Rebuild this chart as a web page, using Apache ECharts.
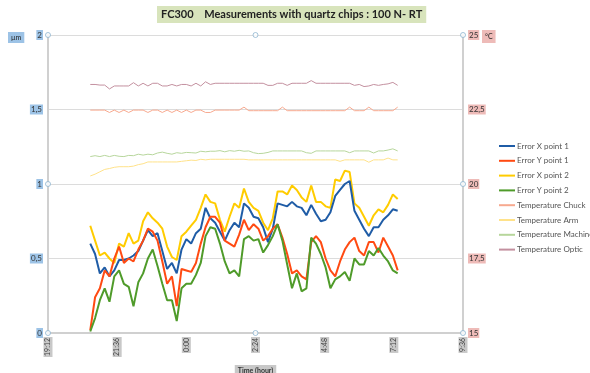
<!DOCTYPE html>
<html>
<head>
<meta charset="utf-8">
<script src="https://cdn.jsdelivr.net/npm/echarts@6/dist/echarts.min.js"></script>
<style>
  html, body { margin: 0; padding: 0; background: #fff; }
  #chart { width: 590px; height: 373px; }
</style>
</head>
<body>
<div id="chart"></div>
<script>
// Sample times (every 10 min, night run)
const times = ['20:40','20:50','21:00','21:10','21:20','21:30','21:40','21:50','22:00','22:10',
  '22:20','22:30','22:40','22:50','23:00','23:10','23:20','23:30','23:40','23:50',
  '00:00','00:10','00:20','00:30','00:40','00:50','01:00','01:10','01:20','01:30',
  '01:40','01:50','02:00','02:10','02:20','02:30','02:40','02:50','03:00','03:10',
  '03:20','03:30','03:40','03:50','04:00','04:10','04:20','04:30','04:40','04:50',
  '05:00','05:10','05:20','05:30','05:40','05:50','06:00','06:10','06:20','06:30',
  '06:40','06:50','07:00','07:10','07:20'];

// Errors (µm, left axis)
const errX1 = [0.60,0.53,0.40,0.44,0.38,0.42,0.49,0.49,0.50,0.52,0.55,0.62,0.69,0.65,0.67,0.55,0.43,0.47,0.40,0.56,
  0.63,0.60,0.67,0.70,0.84,0.77,0.74,0.68,0.62,0.69,0.74,0.71,0.87,0.84,0.78,0.77,0.71,0.61,0.70,0.87,
  0.86,0.85,0.88,0.85,0.84,0.79,0.86,0.80,0.75,0.76,0.81,0.92,0.96,1.00,1.02,0.82,0.76,0.70,0.65,0.71,
  0.71,0.76,0.79,0.83,0.82];
const errY1 = [0.02,0.24,0.30,0.42,0.38,0.50,0.58,0.47,0.50,0.48,0.56,0.62,0.70,0.68,0.62,0.48,0.33,0.38,0.18,0.43,
  0.42,0.41,0.47,0.60,0.71,0.78,0.78,0.74,0.62,0.60,0.58,0.66,0.76,0.69,0.73,0.70,0.62,0.65,0.70,0.73,
  0.64,0.53,0.40,0.42,0.38,0.36,0.61,0.65,0.61,0.50,0.42,0.38,0.48,0.56,0.61,0.64,0.55,0.52,0.61,0.61,
  0.54,0.64,0.58,0.52,0.42];
const errX2 = [0.72,0.62,0.52,0.54,0.50,0.47,0.60,0.58,0.67,0.60,0.62,0.75,0.81,0.77,0.74,0.70,0.58,0.51,0.49,0.65,
  0.68,0.72,0.76,0.84,0.93,0.88,0.87,0.76,0.68,0.78,0.87,0.84,0.97,0.88,0.84,0.82,0.74,0.69,0.77,0.95,
  0.95,0.93,0.99,0.96,0.91,0.88,0.99,0.88,0.88,0.85,0.84,1.03,1.02,1.09,1.08,0.87,0.84,0.78,0.72,0.79,
  0.83,0.81,0.86,0.93,0.90];
const errY2 = [0.01,0.10,0.22,0.30,0.21,0.38,0.42,0.33,0.31,0.18,0.34,0.40,0.50,0.56,0.45,0.33,0.22,0.22,0.08,0.30,
  0.33,0.33,0.39,0.47,0.65,0.71,0.70,0.60,0.48,0.40,0.42,0.38,0.63,0.65,0.62,0.63,0.54,0.59,0.65,0.73,
  0.62,0.46,0.30,0.40,0.28,0.30,0.64,0.60,0.53,0.44,0.30,0.36,0.38,0.41,0.35,0.50,0.46,0.46,0.55,0.52,
  0.57,0.52,0.48,0.42,0.40];

// Temperatures (°C, right axis)
const tChuck = [22.48,22.48,22.48,22.48,22.40,22.48,22.40,22.48,22.40,22.48,22.48,22.48,22.40,22.48,22.48,22.40,22.48,22.40,22.48,22.40,
  22.48,22.40,22.48,22.48,22.40,22.40,22.48,22.48,22.48,22.48,22.48,22.48,22.58,22.46,22.46,22.46,22.46,22.46,22.46,22.46,
  22.58,22.46,22.46,22.46,22.46,22.46,22.46,22.46,22.46,22.46,22.46,22.46,22.46,22.46,22.58,22.46,22.46,22.46,22.58,22.46,
  22.46,22.46,22.46,22.46,22.58];
const tArm = [20.27,20.33,20.41,20.49,20.52,20.56,20.58,20.58,20.58,20.60,20.65,20.68,20.74,20.74,20.74,20.74,20.74,20.74,20.74,20.76,
  20.78,20.80,20.79,20.83,20.81,20.83,20.83,20.83,20.83,20.83,20.83,20.83,20.83,20.81,20.81,20.81,20.81,20.81,20.81,20.81,
  20.81,20.81,20.81,20.81,20.81,20.81,20.81,20.81,20.81,20.81,20.81,20.81,20.76,20.81,20.81,20.81,20.81,20.81,20.73,20.81,
  20.81,20.81,20.87,20.81,20.81];
const tMachine = [20.92,20.95,20.92,20.96,20.92,20.96,20.93,20.92,20.96,20.95,21.00,20.97,21.00,20.98,21.04,21.07,21.03,21.00,21.05,21.03,
  21.06,21.05,21.04,21.10,21.08,21.10,21.10,21.12,21.08,21.12,21.10,21.13,21.10,21.11,21.05,21.02,21.03,21.06,21.11,21.11,
  21.11,21.11,21.11,21.11,21.11,21.05,21.03,21.11,21.11,21.11,21.11,21.11,21.11,21.11,21.05,21.11,21.11,21.11,21.11,21.04,
  21.11,21.11,21.14,21.18,21.11];
const tOptic = [23.34,23.34,23.32,23.32,23.19,23.29,23.29,23.29,23.29,23.40,23.29,23.38,23.29,23.38,23.38,23.29,23.29,23.34,23.29,23.34,
  23.34,23.29,23.38,23.29,23.43,23.34,23.38,23.38,23.38,23.38,23.38,23.38,23.38,23.38,23.38,23.38,23.38,23.31,23.31,23.38,
  23.38,23.31,23.38,23.38,23.38,23.38,23.47,23.38,23.38,23.38,23.38,23.38,23.38,23.38,23.38,23.31,23.34,23.27,23.29,23.34,
  23.31,23.34,23.36,23.41,23.31];

// Plot-area corner/edge handles (x in hours, y in µm)
const handleX = [19.2, 26.4, 33.6, 33.6, 33.6, 26.4, 19.2, 19.2];
const handleY = [2, 2, 2, 1, 0, 0, 0, 1];

function toHours(t) {
    const [h, m] = t.split(':').map(Number);
    return (h < 12 ? h + 24 : h) + m / 60;
}
function pair(values) {
    return values.map((v, i) => [toHours(times[i]), v]);
}
function hourLabel(v) {
    const mins = Math.round(v * 60) % (24 * 60);
    const h = Math.floor(mins / 60), m = mins % 60;
    return h + ':' + (m < 10 ? '0' : '') + m;
}
const comma = v => String(v).replace('.', ',');

const chart = echarts.init(document.getElementById('chart'));
const FONT = 'Lato, "Open Sans", sans-serif';

function errSeries(name, data, color) {
    return { name, type: 'line', data: pair(data), yAxisIndex: 0, symbol: 'none',
        lineStyle: { width: 2, color }, itemStyle: { color }, z: 3 };
}
function tempSeries(name, data, color) {
    return { name, type: 'line', data: pair(data), yAxisIndex: 1, symbol: 'none',
        lineStyle: { width: 1, color }, itemStyle: { color }, z: 2 };
}

const option = {
    animation: false,
    textStyle: { fontFamily: FONT },
    title: {
        text: 'FC300    Measurements with quartz chips : 100 N- RT',
        left: 157, top: 6,
        padding: [3, 4, 3, 4],
        backgroundColor: '#d8e4bc',
        textStyle: { fontSize: 11, fontWeight: 'bold', color: '#222', fontFamily: FONT }
    },
    grid: { left: 48, right: 127, top: 35, bottom: 40, outerBoundsMode: 'none' },
    legend: {
        orient: 'vertical', left: 494, top: 137,
        itemWidth: 16, itemHeight: 2, itemGap: 6.8,
        icon: 'rect',
        textStyle: { fontSize: 8, color: '#555', fontFamily: FONT, padding: [0, 0, 0, -3] },
        data: ['Error X point 1', 'Error Y point 1', 'Error X point 2', 'Error Y point 2',
               'Temperature Chuck', 'Temperature Arm', 'Temperature Machine', 'Temperature Optic']
    },
    xAxis: {
        type: 'value', min: 19.2, max: 33.6, interval: 2.4,
        name: 'Time (hour)', nameLocation: 'middle', nameGap: 27,
        nameTextStyle: { fontSize: 7, fontWeight: 'bold', color: '#333', backgroundColor: '#c8c8c8', padding: [2, 3, 2, 3] },
        axisLine: { lineStyle: { color: '#d0d0d0', width: 2 } },
        axisTick: { show: false },
        splitLine: { show: false },
        axisLabel: { rotate: 90, fontSize: 7, color: '#444', margin: 4, backgroundColor: '#c8c8c8',
            padding: [1, 1, 1, 1], formatter: hourLabel }
    },
    yAxis: [{
        type: 'value', min: 0, max: 2, interval: 0.5,
        axisLine: { show: true, lineStyle: { color: '#d0d0d0', width: 2 } },
        axisTick: { show: false },
        splitLine: { lineStyle: { color: '#dcdcdc', width: 1 } },
        axisLabel: { fontSize: 8, color: '#333', margin: 5, backgroundColor: '#9dc3e6',
            padding: [1, 1, 1, 1], formatter: comma }
    }, {
        type: 'value', min: 15, max: 25, interval: 2.5,
        axisLine: { show: true, lineStyle: { color: '#d0d0d0', width: 2 } },
        axisTick: { show: false },
        splitLine: { show: false },
        axisLabel: { fontSize: 8, color: '#333', margin: 5, backgroundColor: '#eebbb8',
            padding: [1, 1, 1, 1], formatter: comma }
    }],
    graphic: [
        { type: 'text', left: 8, top: 32, style: { text: 'µm', fontSize: 7, fill: '#222', fontFamily: FONT,
            backgroundColor: '#9dc3e6', padding: [2, 3, 2, 3] } },
        { type: 'text', left: 482, top: 30, style: { text: '°C', fontSize: 7, fill: '#222', fontFamily: FONT,
            backgroundColor: '#eebbb8', padding: [3, 3, 3, 3] } }
    ],
    series: [
        tempSeries('Temperature Chuck', tChuck, '#f7a98f'),
        tempSeries('Temperature Arm', tArm, '#ffe28a'),
        tempSeries('Temperature Machine', tMachine, '#b7d69c'),
        tempSeries('Temperature Optic', tOptic, '#c3909f'),
        errSeries('Error X point 2', errX2, '#ffcc00'),
        errSeries('Error X point 1', errX1, '#1f5ca6'),
        errSeries('Error Y point 1', errY1, '#ff4a12'),
        errSeries('Error Y point 2', errY2, '#4f9b2a'),
        {
            name: 'handles', type: 'scatter', yAxisIndex: 0, silent: true, z: 5,
            data: handleX.map((x, i) => [x, handleY[i]]),
            symbol: 'circle', symbolSize: 5,
            itemStyle: { color: '#ffffff', borderColor: '#8db4cf', borderWidth: 1 }
        }
    ]
};
chart.setOption(option);
</script>
</body>
</html>
